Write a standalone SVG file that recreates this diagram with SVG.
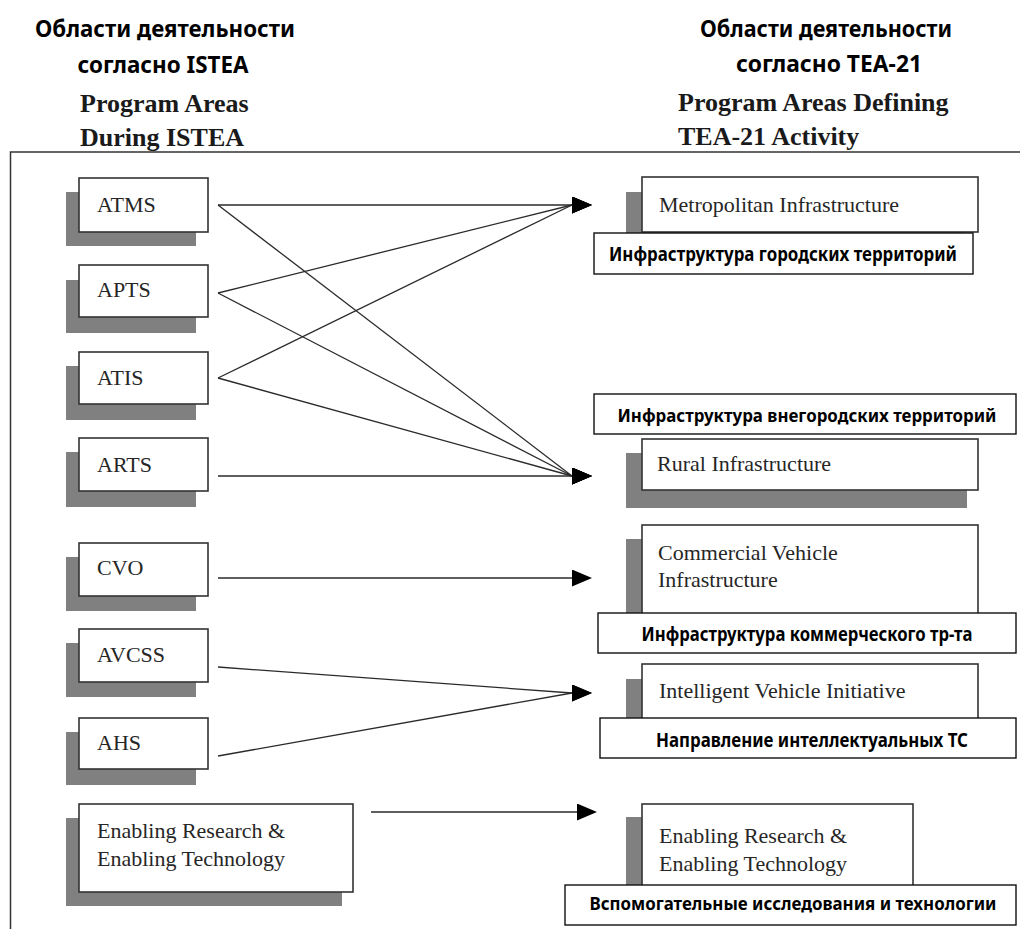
<svg xmlns="http://www.w3.org/2000/svg" width="1020" height="929" viewBox="0 0 1020 929">
  <style>
    .hdr-ru { font-family: "Noto Sans", "Open Sans", sans-serif; font-weight: bold; font-size: 23px; fill: #000; }
    .hdr-en { font-family: "Liberation Serif", "Times New Roman", serif; font-weight: bold; font-size: 26px; fill: #1a1a1a; }
    .box { fill: #fff; stroke: #333; stroke-width: 1.6; }
    .shadow { fill: #808080; }
    .txt { font-family: "Liberation Serif", "Times New Roman", serif; font-size: 22px; fill: #262626; }
    .lbl { fill: #fff; stroke: #111; stroke-width: 1.4; }
    .lbl-txt { font-family: "Noto Sans", "Open Sans", sans-serif; font-weight: bold; font-size: 19px; fill: #000; text-anchor: middle; }
    .lbl-txt.long { font-size: 17px; }
    .frame { stroke: #333; stroke-width: 1.5; fill: none; }
    .conn { stroke: #2a2a2a; stroke-width: 1.3; fill: none; marker-end: url(#arrow); }
  </style>
  <defs>
    <marker id="arrow" markerUnits="userSpaceOnUse" markerWidth="20" markerHeight="18" refX="0" refY="8.5" orient="0">
      <path d="M0,0 L20,8.5 L0,17 z" fill="#000"/>
    </marker>
  </defs>

  <rect width="1020" height="929" fill="#fff"/>

  <!-- column headings -->
  <g id="heading-left">
    <text class="hdr-ru" x="165" y="37" text-anchor="middle" textLength="260" lengthAdjust="spacingAndGlyphs">Области деятельности</text>
    <text class="hdr-ru" x="163" y="73" text-anchor="middle" textLength="171" lengthAdjust="spacingAndGlyphs">согласно ISTEA</text>
    <text class="hdr-en" x="80" y="112">Program Areas</text>
    <text class="hdr-en" x="80" y="146">During ISTEA</text>
  </g>
  <g id="heading-right">
    <text class="hdr-ru" x="826" y="37" text-anchor="middle" textLength="252" lengthAdjust="spacingAndGlyphs">Области деятельности</text>
    <text class="hdr-ru" x="829" y="72" text-anchor="middle" textLength="186" lengthAdjust="spacingAndGlyphs">согласно TEA-21</text>
    <text class="hdr-en" x="678" y="111">Program Areas Defining</text>
    <text class="hdr-en" x="678" y="145">TEA-21 Activity</text>
  </g>

  <!-- frame -->
  <path class="frame" d="M10.5,929 L10.5,152 L1020,152"/>

  <!-- connectors -->
  <g id="connectors">
    <path class="conn" d="M218,205 L572,205"/>
    <path class="conn" d="M218,205 L572,476"/>
    <path class="conn" d="M218,293 L572,205"/>
    <path class="conn" d="M218,293 L572,476"/>
    <path class="conn" d="M218,378 L572,205"/>
    <path class="conn" d="M218,378 L572,476"/>
    <path class="conn" d="M218,476 L572,476"/>
    <path class="conn" d="M218,578 L572,578"/>
    <path class="conn" d="M218,667 L572,693"/>
    <path class="conn" d="M218,756 L572,693"/>
    <path class="conn" d="M371,812 L577,812"/>
  </g>

  <!-- ISTEA program areas -->
  <g id="atms">
    <rect class="shadow" x="66" y="192" width="130" height="54"/>
    <rect class="box" x="79" y="178" width="129" height="54"/>
    <text class="txt" x="97" y="212">ATMS</text>
  </g>
  <g id="apts">
    <rect class="shadow" x="66" y="280" width="130" height="53"/>
    <rect class="box" x="79" y="265" width="129" height="52"/>
    <text class="txt" x="97" y="297">APTS</text>
  </g>
  <g id="atis">
    <rect class="shadow" x="66" y="366" width="130" height="54"/>
    <rect class="box" x="79" y="352" width="129" height="52"/>
    <text class="txt" x="97" y="385">ATIS</text>
  </g>
  <g id="arts">
    <rect class="shadow" x="66" y="452" width="130" height="55"/>
    <rect class="box" x="79" y="438" width="129" height="53"/>
    <text class="txt" x="97" y="472">ARTS</text>
  </g>
  <g id="cvo">
    <rect class="shadow" x="66" y="557" width="130" height="54"/>
    <rect class="box" x="79" y="543" width="129" height="53"/>
    <text class="txt" x="97" y="575">CVO</text>
  </g>
  <g id="avcss">
    <rect class="shadow" x="66" y="643" width="130" height="54"/>
    <rect class="box" x="79" y="629" width="129" height="53"/>
    <text class="txt" x="97" y="662">AVCSS</text>
  </g>
  <g id="ahs">
    <rect class="shadow" x="66" y="732" width="130" height="53"/>
    <rect class="box" x="79" y="718" width="129" height="51"/>
    <text class="txt" x="97" y="750">AHS</text>
  </g>
  <g id="enabling-istea">
    <rect class="shadow" x="66" y="818" width="276" height="88"/>
    <rect class="box" x="79" y="804" width="274" height="88"/>
    <text class="txt" x="97" y="838">Enabling Research &amp;</text>
    <text class="txt" x="97" y="866">Enabling Technology</text>
  </g>

  <!-- TEA-21 program areas -->
  <g id="metropolitan">
    <rect class="shadow" x="626" y="192" width="336" height="55"/>
    <rect class="box" x="642" y="177" width="336" height="55"/>
    <text class="txt" x="659" y="212">Metropolitan Infrastructure</text>
    <rect class="lbl" x="594" y="233" width="379" height="41"/>
    <text class="lbl-txt" x="783" y="261" textLength="348" lengthAdjust="spacingAndGlyphs">Инфраструктура городских территорий</text>
  </g>
  <g id="rural">
    <rect class="lbl" x="594" y="394" width="422" height="40"/>
    <text class="lbl-txt long" x="807" y="422" textLength="379" lengthAdjust="spacingAndGlyphs">Инфраструктура внегородских территорий</text>
    <rect class="shadow" x="626" y="453" width="341" height="55"/>
    <rect class="box" x="642" y="439" width="336" height="51"/>
    <text class="txt" x="657" y="471">Rural Infrastructure</text>
  </g>
  <g id="commercial">
    <rect class="shadow" x="626" y="539" width="336" height="80"/>
    <rect class="box" x="642" y="525" width="336" height="90"/>
    <text class="txt" x="658" y="560">Commercial Vehicle</text>
    <text class="txt" x="658" y="587">Infrastructure</text>
    <rect class="lbl" x="598" y="613" width="418" height="40"/>
    <text class="lbl-txt" x="807" y="641" textLength="331" lengthAdjust="spacingAndGlyphs">Инфраструктура коммерческого тр-та</text>
  </g>
  <g id="intelligent">
    <rect class="shadow" x="626" y="679" width="336" height="40"/>
    <rect class="box" x="642" y="664" width="336" height="56"/>
    <text class="txt" x="659" y="698">Intelligent Vehicle Initiative</text>
    <rect class="lbl" x="600" y="718" width="416" height="40"/>
    <text class="lbl-txt" x="812" y="747" textLength="312" lengthAdjust="spacingAndGlyphs">Направление интеллектуальных ТС</text>
  </g>
  <g id="enabling-tea21">
    <rect class="shadow" x="626" y="817" width="272" height="70"/>
    <rect class="box" x="642" y="804" width="271" height="83"/>
    <text class="txt" x="659" y="843">Enabling Research &amp;</text>
    <text class="txt" x="659" y="871">Enabling Technology</text>
    <rect class="lbl" x="565" y="885" width="451" height="40"/>
    <text class="lbl-txt long" x="793" y="910" textLength="407" lengthAdjust="spacingAndGlyphs">Вспомогательные исследования и технологии</text>
  </g>
</svg>
